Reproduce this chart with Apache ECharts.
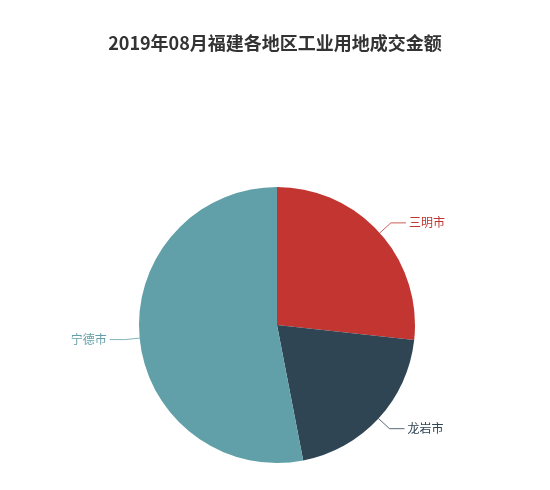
<!DOCTYPE html>
<html><head><meta charset="utf-8">
<script src="https://cdn.jsdelivr.net/npm/echarts@6/dist/echarts.min.js"></script>
<style>html,body{margin:0;padding:0;background:#fff}#c{width:550px;height:490px}</style>
</head><body><div id="c"></div>
<script>
const titleText = '2019年08月福建各地区工业用地成交金额';
const categories = ['三明市', '龙岩市', '宁德市'];
const values = [26.74, 20.22, 53.04];
const colors = ['#c23531', '#2f4554', '#61a0a8'];

const chart = echarts.init(document.getElementById('c'));
chart.setOption({
  animation: false,
  color: colors,
  textStyle: { fontFamily: "'Noto Sans CJK SC', sans-serif" },
  title: {
    text: titleText,
    left: 'center',
    top: 29,
    textStyle: { fontSize: 18, fontWeight: 'bold', color: '#333', fontFamily: "'Noto Sans CJK SC', sans-serif" }
  },
  series: [{
    type: 'pie',
    center: [277, 325],
    radius: [0, 138],
    startAngle: 90,
    data: categories.map((n, i) => ({
      name: n, value: values[i],
      label: { color: colors[i] },
      labelLine: { lineStyle: { color: colors[i], opacity: 0.8 } }
    })),
    label: { fontSize: 12, distanceToLabelLine: 3, fontFamily: "'Noto Sans CJK SC', sans-serif" },
    labelLine: { length: 15, length2: 15 },
    itemStyle: { borderWidth: 0 }
  }]
});
</script></body></html>
